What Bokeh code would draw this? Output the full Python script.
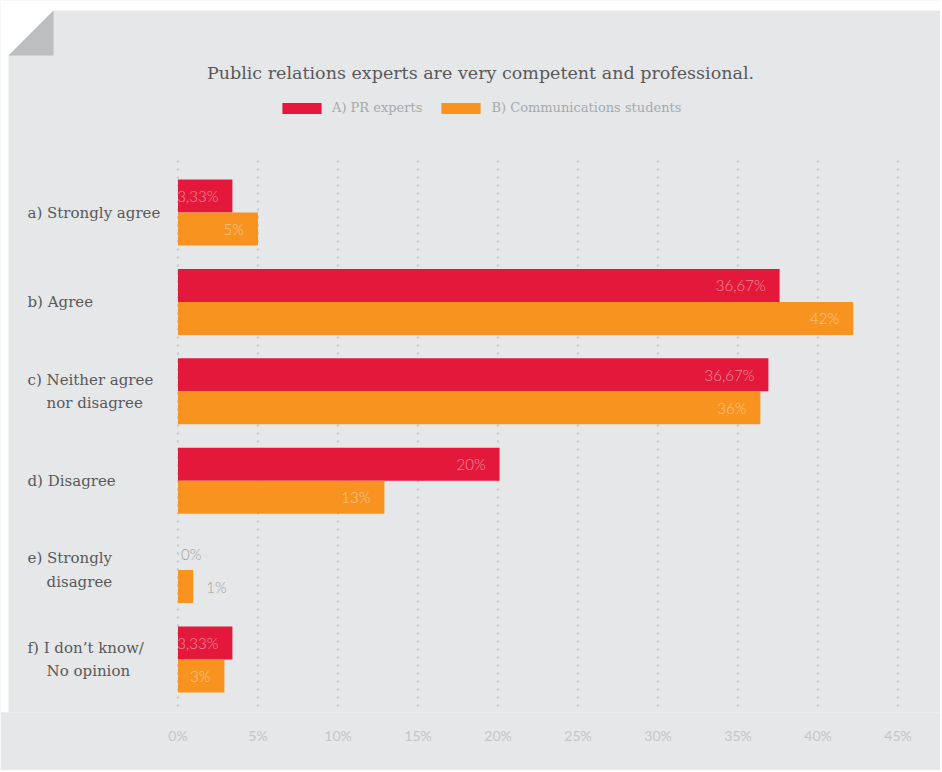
from bokeh.plotting import figure
from bokeh.models import (Range1d, FixedTicker, ColumnDataSource, LabelSet, Label,
                          Legend, LegendItem, PolyAnnotation)
from bokeh.core.properties import value
from bokeh.embed import file_html
from bokeh.resources import INLINE

# ---------------- data ----------------
title_text = "Public relations experts are very competent and professional."
categories = ["a) Strongly agree", "b) Agree", "c) Neither agree\nnor disagree",
              "d) Disagree", "e) Strongly\ndisagree", "f) I don\u2019t know/\nNo opinion"]
series_names = ["A) PR experts", "B) Communications students"]
pr_values = [3.4, 37.6, 36.9, 20.1, 0.0, 3.4]          # bar lengths as drawn (%)
student_values = [5.0, 42.2, 36.4, 12.9, 0.95, 2.9]    # bar lengths as drawn (%)
pr_labels = ["3,33%", "36,67%", "36,67%", "20%", "0%", "3,33%"]
student_labels = ["5%", "42%", "36%", "13%", "1%", "3%"]
tick_values = [0, 5, 10, 15, 20, 25, 30, 35, 40, 45]
tick_labels = ["0%", "5%", "10%", "15%", "20%", "25%", "30%", "35%", "40%", "45%"]

# ---------------- style / layout ----------------
RED = "#e3183a"
ORANGE = "#f7931e"
BG = "#e6e7e8"
FOLD = "#bcbec0"
DARK = "#58595b"
W, H = 940, 770
BOTTOM = 58
X0 = 177.5      # pixel of 0 %
Y0 = 212.0      # pixel of first category centre
PX_X = 16.0     # pixels per percent
PX_Y = 89.4     # pixels per category
frame_h = H - BOTTOM


def fx(px):
    return (px - X0) / PX_X


def fy(py):
    return (py - Y0) / PX_Y


p = figure(width=W, height=H, x_range=Range1d(fx(0), fx(W)),
           y_range=Range1d(fy(frame_h), fy(0)), output_backend="svg",
           toolbar_location=None, min_border_left=0, min_border_right=0,
           min_border_top=0, min_border_bottom=BOTTOM,
           background_fill_color=BG, border_fill_color=BG, outline_line_color=None)

p.yaxis.visible = False
p.ygrid.visible = False
p.xgrid.visible = False
ticker = FixedTicker(ticks=tick_values)
p.xaxis.ticker = ticker
p.xaxis.major_label_overrides = dict(zip(tick_values, tick_labels))
p.xaxis.axis_line_color = None
p.xaxis.major_tick_line_color = None
p.xaxis.minor_tick_line_color = None
p.xaxis.major_tick_out = 0
p.xaxis.major_label_standoff = 14
p.xaxis.major_label_text_font = "Lato"
p.xaxis.major_label_text_font_size = "14px"
p.xaxis.major_label_text_color = "#c4c5c7"

# dotted vertical grid lines at the ticks
p.segment(x0=tick_values, x1=tick_values, y0=[fy(160)] * len(tick_values),
          y1=[fy(frame_h)] * len(tick_values), line_color="#c4c5c7",
          line_width=2, line_dash="2 6")

# ---------------- bars ----------------
n = len(categories)
idx = list(range(n))
bar_h = 33.0 / PX_Y
src = ColumnDataSource(dict(y_pr=[i - bar_h / 2 for i in idx],
                            y_st=[i + bar_h / 2 for i in idx],
                            pr=pr_values, st=student_values))
r1 = p.hbar(y="y_pr", left=0, right="pr", height=bar_h, fill_color=RED,
            line_color=None, source=src)
r2 = p.hbar(y="y_st", left=0, right="st", height=bar_h, fill_color=ORANGE,
            line_color=None, source=src)

# ---------------- value labels ----------------
inside = dict(x=[], y=[], t=[])
outside = dict(x=[], y=[], t=[], xo=[])
for vals, labs, yk in ((pr_values, pr_labels, "y_pr"), (student_values, student_labels, "y_st")):
    for i, (v, t) in enumerate(zip(vals, labs)):
        yy = src.data[yk][i]
        if v >= 2:
            inside["x"].append(v); inside["y"].append(yy); inside["t"].append(t)
        else:
            outside["x"].append(v); outside["y"].append(yy); outside["t"].append(t)
            outside["xo"].append(13 if v > 0 else 3)

p.text(x="x", y="y", text="t", source=ColumnDataSource(inside), x_offset=-14,
       text_align="right", text_baseline="middle", text_color="white",
       text_alpha=0.5, text_font=value("Lato Light"), text_font_size="15px")
p.text(x="x", y="y", text="t", source=ColumnDataSource(outside), x_offset="xo",
       text_align="left", text_baseline="middle", text_color="#9d9fa2",
       text_font=value("Lato Light"), text_font_size="15px")

# ---------------- category labels ----------------
indent = "\u00a0" * 4
cat_text = [c.replace("\n", "\n" + indent) for c in categories]
cat_src = ColumnDataSource(dict(x=[fx(27)] * n, y=idx, t=cat_text))
p.add_layout(LabelSet(x="x", y="y", text="t", source=cat_src, text_align="left",
                      text_baseline="middle", text_font=value("DejaVu Serif"),
                      text_font_size="15px", text_color=DARK, text_line_height=1.3))

# ---------------- title ----------------
p.add_layout(Label(x=fx(480), y=fy(72), text=title_text, text_align="center",
                   text_baseline="middle", text_font="DejaVu Serif",
                   text_font_size="17.5px", text_color=DARK))

# ---------------- legend ----------------
legend = Legend(items=[LegendItem(label=series_names[0], renderers=[r1]),
                       LegendItem(label=series_names[1], renderers=[r2])],
                orientation="horizontal", location=(277, frame_h - 115),
                glyph_width=49, glyph_height=14, label_height=14, label_standoff=6,
                spacing=14, padding=0, margin=0, border_line_color=None,
                background_fill_alpha=0, label_text_font="DejaVu Serif",
                label_text_font_size="13px", label_text_color="#a7a9ac")
p.add_layout(legend)

# ---------------- page margin and folded corner ----------------
p.add_layout(PolyAnnotation(xs=[fx(0), fx(W), fx(W), fx(53), fx(8), fx(8), fx(0)],
                            ys=[fy(0), fy(0), fy(10), fy(10), fy(55), fy(frame_h), fy(frame_h)],
                            fill_color="white", fill_alpha=1, line_color=None))
p.add_layout(PolyAnnotation(xs=[fx(53), fx(53), fx(8)], ys=[fy(10), fy(55), fy(55)],
                            fill_color=FOLD, fill_alpha=1, line_color=None))

open("out.html", "w").write(file_html(p, INLINE))
